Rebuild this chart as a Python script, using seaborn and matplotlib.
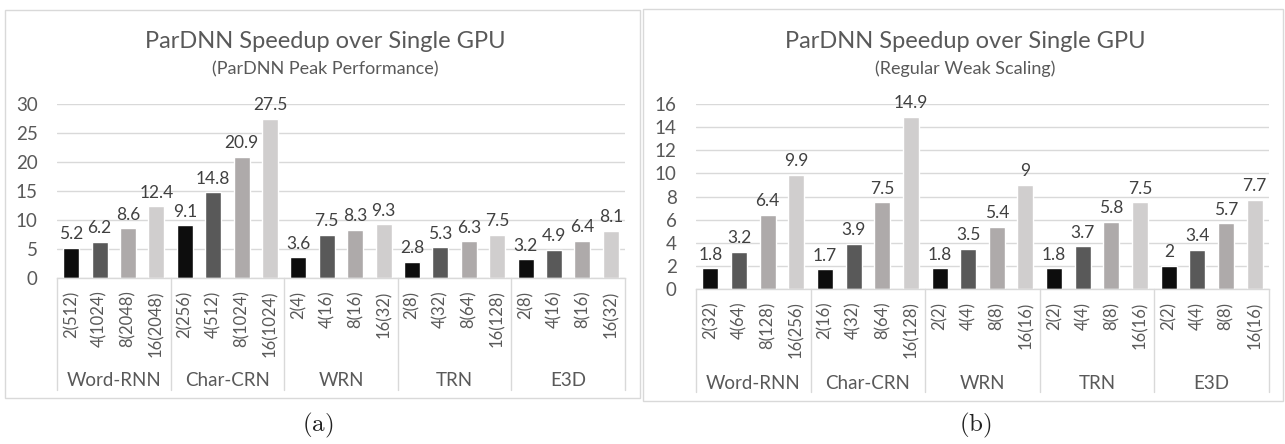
import matplotlib
matplotlib.use("Agg")
import matplotlib.pyplot as plt
import numpy as np
import pandas as pd
import seaborn as sns
from matplotlib.patches import Rectangle
from matplotlib.transforms import blended_transform_factory

# ---------------- data ----------------
groups = ["Word-RNN", "Char-CRN", "WRN", "TRN", "E3D"]

configs_a = ["2(512)", "4(1024)", "8(2048)", "16(2048)",
             "2(256)", "4(512)", "8(1024)", "16(1024)",
             "2(4)", "4(16)", "8(16)", "16(32)",
             "2(8)", "4(32)", "8(64)", "16(128)",
             "2(8)", "4(16)", "8(16)", "16(32)"]
values_a = [5.2, 6.2, 8.6, 12.4,
            9.1, 14.8, 20.9, 27.5,
            3.6, 7.5, 8.3, 9.3,
            2.8, 5.3, 6.3, 7.5,
            3.2, 4.9, 6.4, 8.1]

configs_b = ["2(32)", "4(64)", "8(128)", "16(256)",
             "2(16)", "4(32)", "8(64)", "16(128)",
             "2(2)", "4(4)", "8(8)", "16(16)",
             "2(2)", "4(4)", "8(8)", "16(16)",
             "2(2)", "4(4)", "8(8)", "16(16)"]
values_b = [1.8, 3.2, 6.4, 9.9,
            1.7, 3.9, 7.5, 14.9,
            1.8, 3.5, 5.4, 9,
            1.8, 3.7, 5.8, 7.5,
            2, 3.4, 5.7, 7.7]

title_main = "ParDNN Speedup over Single GPU"
subtitle_a = "(ParDNN Peak Performance)"
subtitle_b = "(Regular Weak Scaling)"
yticks_a = [0, 5, 10, 15, 20, 25, 30]
yticks_b = [0, 2, 4, 6, 8, 10, 12, 14, 16]

# ---------------- style ----------------
sns.set_theme(style="white")
plt.rcParams["font.family"] = ["Lato", "DejaVu Sans"]
plt.rcParams["mathtext.fontset"] = "cm"

palette = ["#0d0d0d", "#595959", "#aeaaaa", "#d0cece"]
txt = "#595959"
grid_c = "#d9d9d9"

W, H = 1285, 444
fig = plt.figure(figsize=(W / 100, H / 100), dpi=100)


def fx(px):
    return px / W


def fy(py):
    return 1 - py / H


def make_df(configs, values):
    n_per = 4
    rows = []
    for i, (c, v) in enumerate(zip(configs, values)):
        g = groups[i // n_per]
        rows.append({"key": f"{g}|{c}", "config": c, "value": v,
                     "slot": str(i % n_per), "group": g})
    return pd.DataFrame(rows)


def draw_panel(ax, configs, values, yticks, ymax, lab_y, sep_y):
    df = make_df(configs, values)
    order = list(df["key"])
    sns.barplot(data=df, x="key", y="value", hue="slot", order=order,
                hue_order=["0", "1", "2", "3"], palette=palette, dodge=False,
                width=0.56, saturation=1, legend=False, ax=ax, zorder=3)
    for cont in ax.containers:
        ax.bar_label(cont, fmt="{:g}", padding=4, fontsize=12.5, color="#404040")
    ax.set_xlim(-0.5, len(order) - 0.5)
    ax.set_ylim(0, ymax)
    ax.set_yticks(yticks)
    ax.set_yticklabels([str(t) for t in yticks])
    ax.set_xticks(range(len(order)))
    ax.set_xticklabels(configs, rotation=90, ha="center", va="top")
    ax.tick_params(axis="x", length=0, pad=9, labelsize=12, labelcolor=txt)
    ax.tick_params(axis="y", length=0, pad=14, labelsize=13.5, labelcolor=txt)
    ax.set_xlabel("")
    ax.set_ylabel("")
    ax.yaxis.grid(True, color=grid_c, lw=1, zorder=0)
    ax.set_axisbelow(True)
    for s in ["top", "right", "left"]:
        ax.spines[s].set_visible(False)
    ax.spines["bottom"].set_color(grid_c)
    ax.spines["bottom"].set_linewidth(1)
    ax.spines["bottom"].set_zorder(4)
    trans = blended_transform_factory(ax.transData, ax.transAxes)
    for k in range(len(groups) + 1):
        x = -0.5 + 4 * k
        ax.plot([x, x], [0, -sep_y], transform=trans, clip_on=False,
                color=grid_c, lw=1)
    for k, g in enumerate(groups):
        ax.text(4 * k + 1.5, -lab_y, g, transform=trans, ha="center",
                va="center", fontsize=13.5, color=txt)


# panel (a)
ax_a = fig.add_axes([fx(57), fy(278), fx(625) - fx(57), fy(104) - fy(278)])
draw_panel(ax_a, configs_a, values_a, yticks_a, 30,
           (380 - 278) / 174, (390 - 278) / 174)

# panel (b)
ax_b = fig.add_axes([fx(696), fy(289), fx(1269) - fx(696), fy(104) - fy(289)])
draw_panel(ax_b, configs_b, values_b, yticks_b, 16,
           (383 - 289) / 185, (392 - 289) / 185)

# boxes
fig.add_artist(Rectangle((fx(5), fy(398)), fx(640) - fx(5), fy(10) - fy(398),
                         transform=fig.transFigure, fill=False, ec=grid_c, lw=1))
fig.add_artist(Rectangle((fx(643), fy(401)), fx(1283) - fx(643), fy(9) - fy(401),
                         transform=fig.transFigure, fill=False, ec=grid_c, lw=1))

# titles
for cx, sub in [(325, subtitle_a), (965, subtitle_b)]:
    fig.text(fx(cx), fy(42), title_main, ha="center", va="center",
             fontsize=17, color=txt)
    fig.text(fx(cx), fy(69), sub, ha="center", va="center",
             fontsize=13, color=txt)

# captions
fig.text(fx(318), fy(425), r"$\mathrm{(a)}$", ha="center", va="center",
         fontsize=18, color="#222222")
fig.text(fx(975), fy(425), r"$\mathrm{(b)}$", ha="center", va="center",
         fontsize=18, color="#222222")

fig.savefig("out.png", dpi=100, facecolor="white")
